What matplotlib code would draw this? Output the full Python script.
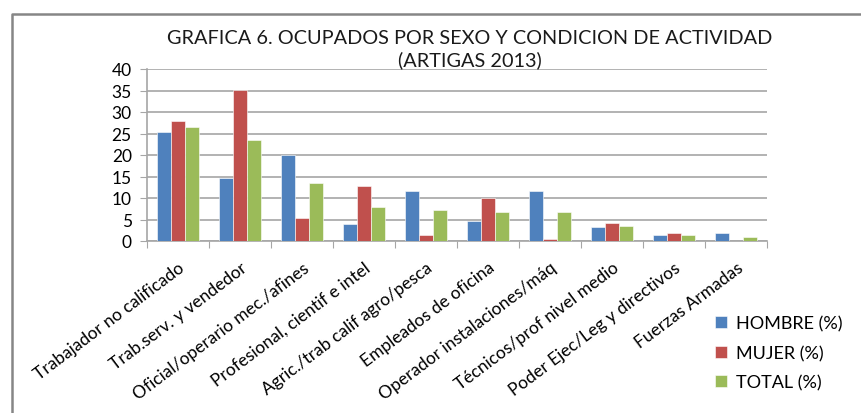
import numpy as np
import matplotlib.pyplot as plt
from matplotlib.lines import Line2D

plt.rcParams["font.family"] = ["Lato", "DejaVu Sans"]

categorias = [
    "Trabajador no calificado",
    "Trab.serv. y vendedor",
    "Oficial/operario mec./afines",
    "Profesional, cientif e intel",
    "Agric./trab calif agro/pesca",
    "Empleados de oficina",
    "Operador instalaciones/máq",
    "Técnicos/prof nivel medio",
    "Poder Ejec/Leg y directivos",
    "Fuerzas Armadas",
]
hombre = [25.4, 14.6, 19.9, 4.0, 11.6, 4.7, 11.6, 3.2, 1.3, 1.8]
mujer = [27.8, 35.1, 5.3, 12.7, 1.3, 9.9, 0.4, 4.3, 1.9, 0.0]
total = [26.4, 23.5, 13.5, 7.8, 7.2, 6.8, 6.8, 3.6, 1.5, 0.9]

series = [
    ("HOMBRE (%)", hombre, "#4F81BD"),
    ("MUJER (%)", mujer, "#C0504D"),
    ("TOTAL (%)", total, "#9BBB59"),
]

fig = plt.figure(figsize=(8.61, 4.14), dpi=100)
ax = fig.add_axes([147 / 861, 1 - 242 / 414, 620 / 861, 172 / 414])

# marco exterior del grafico
fig.add_artist(Line2D([12 / 861, 12 / 861, 1.0], [0.0, 1 - 15 / 414, 1 - 15 / 414],
                      transform=fig.transFigure, color="#868686", lw=1.8))

x = np.arange(len(categorias))
w = 1 / 4.5
for i, (nombre, vals, col) in enumerate(series):
    ax.bar(x + (i - 1) * w, vals, w, color=col, label=nombre,
           edgecolor="white", linewidth=0.4, zorder=3)

ax.set_xlim(-0.5, len(categorias) - 0.5)
ax.set_ylim(0, 40)
ax.set_yticks(range(0, 41, 5))
ax.yaxis.grid(True, color="#A6A6A6", lw=1.2, zorder=0)
ax.tick_params(axis="y", length=5, color="#A6A6A6", labelsize=12.5, pad=6)

# ticks entre categorias, etiquetas en el centro
ax.set_xticks(np.arange(-0.5, len(categorias)), minor=False)
ax.set_xticklabels([])
ax.set_xticks(x, minor=True)
ax.set_xticklabels(categorias, minor=True, rotation=37, ha="right", va="top",
                   rotation_mode="anchor", fontsize=12.5)
ax.tick_params(axis="x", which="major", length=5, color="#A6A6A6")
ax.tick_params(axis="x", which="minor", length=0, pad=13)

for s in ["top", "right"]:
    ax.spines[s].set_visible(False)
for s in ["left", "bottom"]:
    ax.spines[s].set_color("#A6A6A6")
    ax.spines[s].set_linewidth(1.2)

fig.text(470 / 861, 1 - 38 / 414, "GRAFICA 6. OCUPADOS POR SEXO Y CONDICION DE ACTIVIDAD",
         ha="center", va="center", fontsize=14.3, color="#1a1a1a")
fig.text(470 / 861, 1 - 60 / 414, "(ARTIGAS 2013)",
         ha="center", va="center", fontsize=14.3, color="#1a1a1a")

fig.legend(loc="upper left", bbox_to_anchor=(699 / 861, 1 - 300 / 414), frameon=False,
           fontsize=13, handlelength=0.65, handleheight=0.65, handletextpad=0.5,
           labelspacing=0.75)

fig.savefig("out.png", dpi=100)
